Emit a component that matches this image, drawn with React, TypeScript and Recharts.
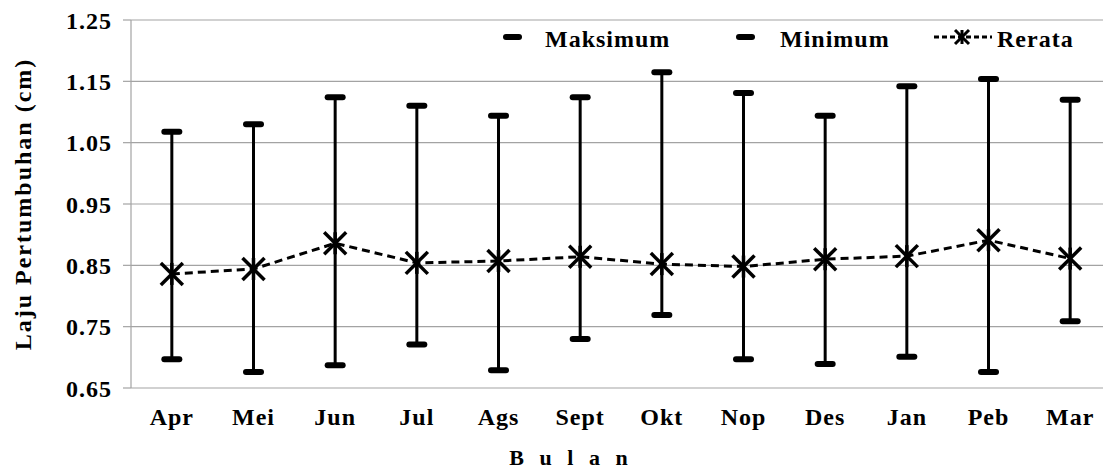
import {
  ComposedChart,
  Line,
  XAxis,
  YAxis,
  CartesianGrid,
  ErrorBar,
  Legend,
} from 'recharts'

const months = ['Apr', 'Mei', 'Jun', 'Jul', 'Ags', 'Sept', 'Okt', 'Nop', 'Des', 'Jan', 'Peb', 'Mar']
const maksimum = [1.068, 1.08, 1.124, 1.11, 1.094, 1.124, 1.165, 1.131, 1.094, 1.142, 1.154, 1.12]
const minimum = [0.697, 0.676, 0.687, 0.721, 0.679, 0.73, 0.769, 0.697, 0.689, 0.701, 0.676, 0.759]
const rerata = [0.836, 0.844, 0.886, 0.854, 0.857, 0.864, 0.852, 0.848, 0.86, 0.865, 0.891, 0.861]
const yTicks = [0.65, 0.75, 0.85, 0.95, 1.05, 1.15, 1.25]

const FONT = '"Times New Roman", Tinos, "Liberation Serif", "DejaVu Serif", serif'
const GRID = '#a3a3a3'

// each month sits in the middle of its slot on a 0..12 numeric axis
const data = months.map((m, i) => ({
  x: i + 0.5,
  month: m,
  maks: maksimum[i],
  min: minimum[i],
  rerata: rerata[i],
  range: [rerata[i] - minimum[i], maksimum[i] - rerata[i]],
}))
const labelTicks = months.map((_, i) => i + 0.5)
const sepTicks = [...months.map((_, i) => i), months.length]

const textStyle = {
  fontFamily: FONT,
  fontWeight: 700,
  fontSize: 24,
  fill: '#000',
  letterSpacing: 1,
}

function renderCap(props: any) {
  const { cx, cy, index } = props
  if (cx == null || cy == null) return <g key={`c-${index}`} />
  return <rect key={`c-${index}`} x={cx - 10.5} y={cy - 3} width={21} height={6} rx={3} fill="#000" />
}

function Star({ cx, cy, r, sw }: { cx: number; cy: number; r: number; sw: number }) {
  return (
    <g stroke="#000" strokeWidth={sw}>
      <line x1={cx - r} y1={cy - r} x2={cx + r} y2={cy + r} />
      <line x1={cx - r} y1={cy + r} x2={cx + r} y2={cy - r} />
      <line x1={cx} y1={cy - r} x2={cx} y2={cy + r} />
    </g>
  )
}

function renderStar(props: any) {
  const { cx, cy, index } = props
  if (cx == null || cy == null) return <g key={`s-${index}`} />
  return (
    <g key={`s-${index}`}>
      <Star cx={cx} cy={cy} r={11} sw={3.5} />
    </g>
  )
}

function LegendContent() {
  return (
    <svg width={1142} height={60} style={{ display: 'block' }}>
      <rect x={503} y={34} width={19} height={6} rx={3} fill="#000" />
      <text x={545} y={47} style={textStyle}>Maksimum</text>
      <rect x={736} y={34} width={19} height={6} rx={3} fill="#000" />
      <text x={780} y={47} style={textStyle}>Minimum</text>
      <line x1={934} y1={37} x2={992} y2={37} stroke="#000" strokeWidth={3} strokeDasharray="5 3" />
      <Star cx={962} cy={37} r={7} sw={3} />
      <text x={997} y={47} style={textStyle}>Rerata</text>
    </svg>
  )
}

export default function App() {
  return (
    <div
      style={{
        position: 'absolute',
        left: 0,
        top: 0,
        width: 1103,
        height: 470,
        overflow: 'hidden',
        background: '#fff',
        fontFamily: FONT,
      }}
    >
      <ComposedChart
        width={1142}
        height={470}
        data={data}
        margin={{ top: 20, right: 31, bottom: 0, left: 0 }}
        style={{ fontFamily: FONT }}
      >
        <CartesianGrid vertical={false} stroke={GRID} strokeWidth={1.2} />
        <XAxis
          xAxisId="sep"
          type="number"
          dataKey="x"
          domain={[0, 12]}
          ticks={sepTicks}
          height={0}
          tickSize={7}
          stroke={GRID}
          tickLine={{ stroke: GRID, strokeWidth: 1.2 }}
          axisLine={{ stroke: GRID, strokeWidth: 1.2 }}
          tickFormatter={() => ''}
        />
        <XAxis
          type="number"
          dataKey="x"
          domain={[0, 12]}
          ticks={labelTicks}
          interval={0}
          height={82}
          axisLine={false}
          tickLine={false}
          tickSize={0}
          tickMargin={20}
          tick={{ ...textStyle, style: textStyle }}
          tickFormatter={v => months[Math.floor(v)]}
          label={{
            value: 'B u l a n',
            position: 'insideBottom',
            offset: 5,
            dx: -50,
            style: { ...textStyle, fontSize: 22, letterSpacing: 5 },
          }}
        />
        <YAxis
          type="number"
          domain={[0.65, 1.25]}
          ticks={yTicks}
          interval={0}
          width={131}
          tickSize={8}
          tickMargin={11}
          tickLine={{ stroke: GRID, strokeWidth: 1.2 }}
          axisLine={{ stroke: GRID, strokeWidth: 1.2 }}
          tick={{ ...textStyle, style: textStyle }}
          tickFormatter={v => v.toFixed(2)}
          label={{
            value: 'Laju Pertumbuhan (cm)',
            angle: -90,
            position: 'insideLeft',
            offset: 22,
            style: { ...textStyle, letterSpacing: 2, textAnchor: 'middle' },
          }}
        />
        <Legend
          verticalAlign="middle"
          layout="horizontal"
          wrapperStyle={{ top: 0, left: 0, width: 1142, height: 60 }}
          content={<LegendContent />}
        />
        <Line
          dataKey="maks"
          stroke="none"
          dot={renderCap}
          activeDot={false}
          isAnimationActive={false}
        />
        <Line
          dataKey="min"
          stroke="none"
          dot={renderCap}
          activeDot={false}
          isAnimationActive={false}
        />
        <Line
          dataKey="rerata"
          stroke="#000"
          strokeWidth={3}
          strokeDasharray="8 5"
          dot={renderStar}
          activeDot={false}
          isAnimationActive={false}
        >
          <ErrorBar
            dataKey="range"
            direction="y"
            width={0}
            stroke="#000"
            strokeWidth={3}
            isAnimationActive={false}
          />
        </Line>
      </ComposedChart>
    </div>
  )
}
